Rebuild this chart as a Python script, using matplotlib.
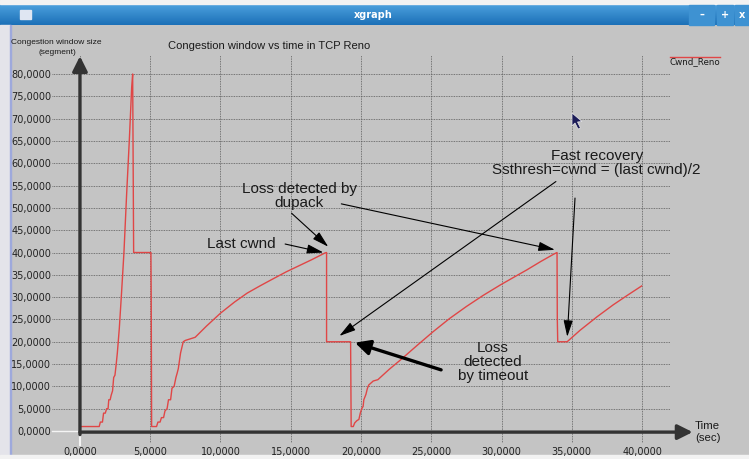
import numpy as np
import matplotlib.pyplot as plt
from matplotlib.patches import Rectangle, Polygon

# congestion window trace (time in s, cwnd in segments)
t = [0.0, 1.37, 1.45, 1.6, 1.68, 1.8, 1.9, 2.0, 2.05, 2.15, 2.22, 2.32, 2.4, 2.49, 2.58, 2.66,
     2.8, 2.96, 3.13, 3.32, 3.51, 3.68, 3.75, 3.82, 5.05, 5.07, 5.1, 5.45, 5.55, 5.7, 5.8,
     5.95, 6.05, 6.2, 6.3, 6.45, 6.55, 6.7, 6.83, 6.92, 7.0, 7.16, 7.35, 7.5, 8.2, 9.0, 10.0,
     11.0, 11.9, 12.8, 13.8, 14.7, 15.7, 16.5, 17.44, 17.55, 17.55, 19.26, 19.3, 19.45, 19.55,
     19.7, 19.85, 19.95, 20.05, 20.15, 20.2, 20.35, 20.45, 20.55, 20.87, 21.2, 22.0, 22.8,
     24.0, 25.15, 26.3, 27.5, 28.7, 29.9, 30.9, 31.8, 32.8, 33.7, 33.95, 33.97, 34.0, 34.67,
     35.6, 36.8, 37.96, 39.0, 39.97]
cwnd = [1, 1, 2, 2, 4, 4, 5, 5, 7, 7, 8, 9, 12, 12.5, 15, 17.5,
        23, 31, 40, 53, 65, 77, 80, 40, 40, 30, 1, 1, 2, 2, 3,
        3, 4.5, 5, 7, 7, 9.6, 10, 12, 13, 14, 17.5, 20, 20.3, 21, 23.5, 26.4,
        28.9, 30.9, 32.5, 34.2, 35.7, 37.2, 38.4, 39.9, 40, 20, 20, 1, 1, 1.8,
        2.3, 2.6, 4, 5, 5.5, 7, 8.2, 9.5, 10.3, 11.2, 11.5, 13.8, 15.9,
        19.2, 22.3, 25.2, 27.9, 30.4, 32.7, 34.5, 36.1, 38.0, 39.6, 40, 25, 20, 20,
        22.6, 25.6, 28.3, 30.5, 32.5]

x_ticks = [0, 5, 10, 15, 20, 25, 30, 35, 40]
y_ticks = list(range(0, 85, 5))
x_labels = ['%d,0000' % v for v in x_ticks]
y_labels = ['%d,0000' % v for v in y_ticks]

grey = '#c4c4c4'
red = '#e04646'
sans = 'Liberation Sans'

fig = plt.figure(figsize=(7.49, 4.59), dpi=100)
fig.patch.set_facecolor(grey)

# window chrome, pixel coords
bg = fig.add_axes([0, 0, 1, 1], zorder=0)
bg.set_facecolor(grey)
grad = np.linspace(0, 1, 40)[:, None, None]
top_c = np.array([0.30, 0.63, 0.87])
bot_c = np.array([0.11, 0.44, 0.72])
bar = top_c * (1 - grad) + bot_c * grad
bg.imshow(bar, extent=(0, 749, 25, 4), aspect='auto', zorder=1)
bg.add_patch(Rectangle((0, 0), 749, 4, color='#f2f2f2', zorder=2))
bg.add_patch(Rectangle((0, 25), 10, 434, color='#e4e4ea', zorder=2))
bg.add_patch(Rectangle((9.5, 25), 1.5, 430, color='#9ea9dc', zorder=2))
bg.add_patch(Rectangle((0, 455), 749, 4, color='#f2f2f2', zorder=2))
bg.add_patch(Rectangle((20, 10), 11, 9, color='#dfe6f2', zorder=3))
for x0, w, s in [(689, 25, '–'), (717, 16, '+'), (735, 14, 'x')]:
    bg.add_patch(Rectangle((x0, 5), w, 20, color='#3e92d2', zorder=3))
    bg.text(x0 + w / 2, 15, s, color='white', fontsize=7, fontweight='bold',
            ha='center', va='center', zorder=4)
bg.text(373, 14.5, 'xgraph', color='white', fontsize=7, fontweight='bold',
        ha='center', va='center', zorder=4)
bg.set_xlim(0, 749)
bg.set_ylim(459, 0)
bg.axis('off')

# plot area: x 0->80px, 40->642px ; y 0->431px, 80->74px
ax = fig.add_axes([52 / 749, 16 / 459, 618 / 749, 388 / 459], zorder=1)
ax.set_facecolor('none')
ax.plot(t, cwnd, color=red, lw=1.0, zorder=3)
ax.set_xlim(-1.99, 41.99)
ax.set_ylim(-2.69, 84.26)
ax.set_xticks(x_ticks)
ax.set_xticklabels(x_labels)
ax.set_yticks(y_ticks)
ax.set_yticklabels(y_labels)
ax.tick_params(length=0, labelsize=7, colors='#222222')
ax.tick_params(axis='y', pad=0.5)
ax.tick_params(axis='x', pad=3)
for sp in ax.spines.values():
    sp.set_visible(False)
ax.grid(True, linestyle=(0, (1, 1)), color='#5a5a5a', lw=0.6, zorder=1)

# white zero line left of the axis and white stub below
ax.plot([-1.99, 0], [0.05, 0.05], color='#f4f4f4', lw=1.0, zorder=2, clip_on=False)
ax.plot([0, 0], [-0.5, -3.2], color='#f4f4f4', lw=1.5, zorder=2, clip_on=False)

# axis arrows
axis_arrow = dict(arrowstyle='-|>,head_length=0.9,head_width=0.45', lw=2.4,
                  color='#333333', mutation_scale=10, shrinkA=0, shrinkB=0)
ax.annotate('', xy=(0, 84.0), xytext=(0, -0.8), arrowprops=axis_arrow,
            annotation_clip=False, zorder=4)
ax.annotate('', xy=(43.6, -0.25), xytext=(0, -0.25), arrowprops=axis_arrow,
            annotation_clip=False, zorder=4)

# annotations
thin = dict(arrowstyle='-|>,head_length=1.0,head_width=0.28', lw=0.8,
            color='black', mutation_scale=10, shrinkA=0, shrinkB=0)
thick = dict(arrowstyle='-|>,head_length=0.9,head_width=0.45', lw=2.4,
             color='black', mutation_scale=10, shrinkA=0, shrinkB=0)
txt = dict(fontsize=11, family=sans, color='#1a1a1a', ha='center', va='center',
           linespacing=1.0, zorder=5)

ax.text(15.6, 52.7, 'Loss detected by\ndupack', **txt)
ax.text(11.46, 41.9, 'Last cwnd', **txt)
ax.text(36.77, 60.1, 'Fast recovery\nSsthresh=cwnd = (last cwnd)/2', **txt)
ax.text(29.4, 15.5, 'Loss\ndetected\nby timeout', **txt)

ax.annotate('', xy=(17.32, 40.0), xytext=(14.6, 41.9), arrowprops=thin, annotation_clip=False)
ax.annotate('', xy=(17.67, 41.3), xytext=(15.06, 48.8), arrowprops=thin, annotation_clip=False)
ax.annotate('', xy=(33.8, 40.6), xytext=(18.6, 50.9), arrowprops=thin, annotation_clip=False)
ax.annotate('', xy=(18.46, 21.3), xytext=(33.87, 55.9), arrowprops=thin, annotation_clip=False)
ax.annotate('', xy=(34.68, 21.1), xytext=(35.23, 52.2), arrowprops=thin, annotation_clip=False)
ax.annotate('', xy=(19.57, 19.8), xytext=(25.7, 13.7), arrowprops=thick, annotation_clip=False)

# labels, title, legend in pixel coords on top
top = fig.add_axes([0, 0, 1, 1], zorder=3)
top.set_facecolor('none')
top.set_xlim(0, 749)
top.set_ylim(459, 0)
top.axis('off')
top.text(269, 46, 'Congestion window vs time in TCP Reno', fontsize=8, family=sans,
         color='#1a1a1a', ha='center', va='center')
top.text(56, 42, 'Congestion window size', fontsize=6, family=sans,
         color='#1a1a1a', ha='center', va='center')
top.text(57, 53, '(segment)', fontsize=6, family=sans,
         color='#1a1a1a', ha='center', va='center')
top.text(695, 426, 'Time', fontsize=8.2, family=sans, color='#1a1a1a', ha='left', va='center')
top.text(695, 438, '(sec)', fontsize=8.2, family=sans, color='#1a1a1a', ha='left', va='center')
top.plot([670, 720], [56.5, 56.5], color=red, lw=1.0)
top.text(670, 62, 'Cwnd_Reno', fontsize=6.3, color='#1a1a1a', ha='left', va='center')
top.add_patch(Polygon([(572, 113), (572, 126), (575, 123), (578, 129), (580.5, 128),
                       (577.5, 122), (582, 121.5)], closed=True,
                      facecolor='#1c1c58', edgecolor='#e8e8e8', lw=0.5))

fig.savefig('out.png', dpi=100, facecolor=fig.get_facecolor())
